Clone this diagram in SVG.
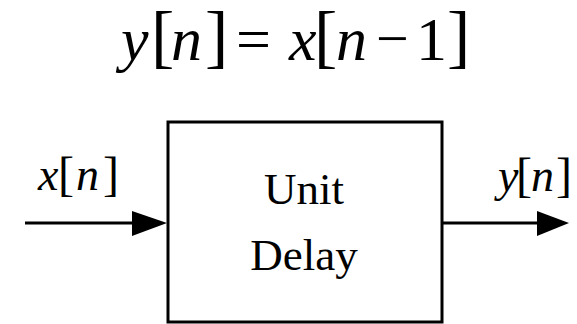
<svg xmlns="http://www.w3.org/2000/svg" width="577" height="324" viewBox="0 0 577 324">
  <style>
    text { font-family: "Liberation Serif", "Times New Roman", serif; fill: #000; }
    .it { font-style: italic; }
    .eq { font-size: 62px; }
    .eqb { font-size: 70px; }
    .eqm { font-size: 58px; }
    .lab { font-size: 46px; }
    .labb { font-size: 48px; }
    .box { fill: #fff; stroke: #000; stroke-width: 3; }
    .wire { stroke: #000; stroke-width: 3; fill: none; }
    .head { fill: #000; }
    .box-label { font-size: 45px; text-anchor: middle; }
  </style>
  <rect width="577" height="324" fill="#fff"/>

  <g id="equation">
    <text y="60"><tspan class="eq it" x="121">y</tspan><tspan class="eqb" x="151">[</tspan><tspan class="eq it" x="171">n</tspan><tspan class="eqb" x="205">]</tspan><tspan class="eq" x="236">=</tspan><tspan class="eq it" x="289">x</tspan><tspan class="eqb" x="314">[</tspan><tspan class="eq it" x="336">n</tspan><tspan class="eqm" x="376" dy="-2">−</tspan><tspan class="eq" x="416" dy="2">1</tspan><tspan class="eqb" x="447">]</tspan></text>
  </g>

  <g id="unit-delay">
    <rect class="box" x="168" y="122" width="274" height="200"/>
    <text class="box-label" x="304" y="204">Unit</text>
    <text class="box-label" x="304" y="270">Delay</text>
  </g>

  <g id="input-label">
    <text y="190"><tspan class="lab it" x="38">x</tspan><tspan class="labb" x="58">[</tspan><tspan class="lab it" x="76">n</tspan><tspan class="labb" x="103">]</tspan></text>
  </g>

  <g id="output-label">
    <text y="191"><tspan class="lab it" x="498">y</tspan><tspan class="labb" x="516">[</tspan><tspan class="lab it" x="531">n</tspan><tspan class="labb" x="556">]</tspan></text>
  </g>

  <g id="connectors">
    <line class="wire" x1="25" y1="223" x2="140" y2="223"/>
    <path class="head" d="M132,211 L167,223 L132,236 Z"/>
    <line class="wire" x1="442" y1="223" x2="545" y2="223"/>
    <path class="head" d="M537,211 L569,223 L537,236 Z"/>
  </g>
</svg>
